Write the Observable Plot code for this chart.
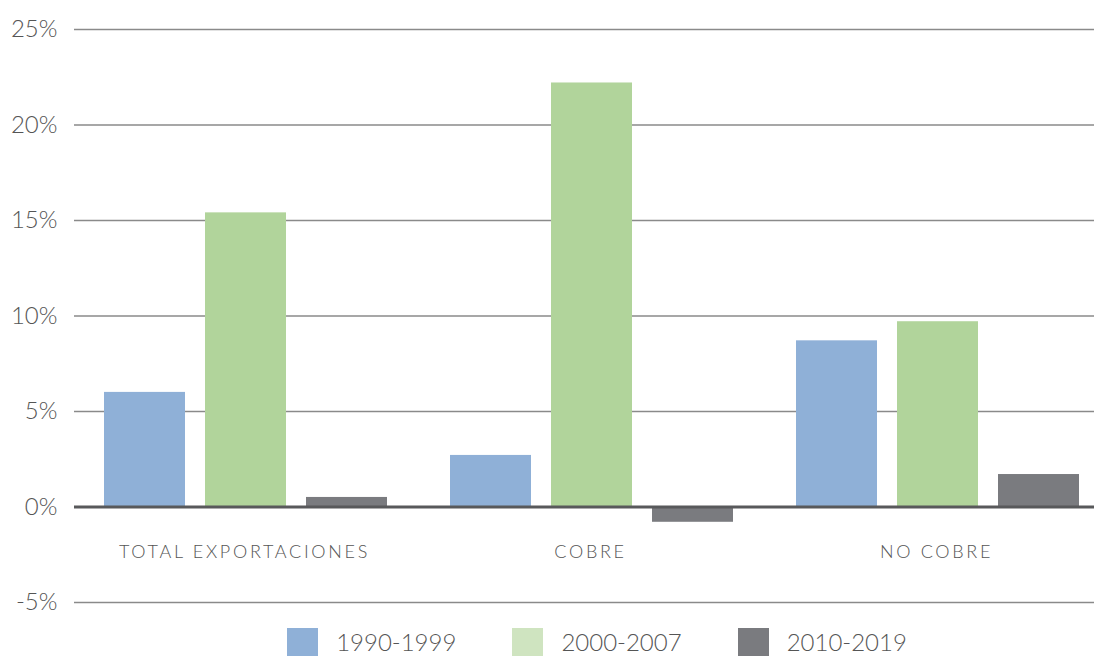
<!DOCTYPE html>
<html>
<head>
<meta charset="utf-8">
<script src="https://cdn.jsdelivr.net/npm/d3@7"></script>
<script src="https://cdn.jsdelivr.net/npm/@observablehq/plot@0.6"></script>
<style>
  html, body { margin: 0; padding: 0; background: #fff; }
  body { font-family: Lato, "Open Sans", sans-serif; font-weight: 300; }
  #chart { width: 1094px; overflow: hidden; }
  #chart svg { display: block; overflow: hidden; }
  g[aria-label="fx-axis tick label"] text { letter-spacing: 2.7px; }
  .legend { display: flex; justify-content: center; align-items: center; height: 28px; margin-top: 8px; margin-left: 87px; width: 1020px; }
  .item { display: flex; align-items: center; margin: 0 28px; }
  .sw { width: 31px; height: 28px; margin-right: 18px; }
  .lab { font-size: 24px; line-height: 26px; color: #555; font-family: Lato, "Open Sans", sans-serif; font-weight: 300; }
</style>
</head>
<body>
<div id="chart"></div>
<div class="legend" id="legend"></div>
<script>
const categories = ["TOTAL EXPORTACIONES", "COBRE", "NO COBRE"];
const periods = ["1990-1999", "2000-2007", "2010-2019"];
const v1990 = [6.0, 2.7, 8.7];
const v2000 = [15.4, 22.2, 9.7];
const v2010 = [0.5, -0.8, 1.7];
const barColors = ["#8fb0d7", "#b1d49b", "#7a7b7f"];
const legendColors = ["#8fb0d7", "#cfe4c0", "#7a7b7f"];
const yTicks = [-5, 0, 5, 10, 15, 20, 25];

const series = [v1990, v2000, v2010];
const data = [];
categories.forEach((c, i) => {
  periods.forEach((p, j) => data.push({category: c, period: p, value: series[j][i]}));
});

const fmt = d => d + "%";

const chart = Plot.plot({
  width: 1094,
  height: 620,
  marginLeft: 72,
  marginRight: -16,
  marginTop: 29,
  marginBottom: 18,
  style: {fontFamily: "Lato, 'Open Sans', sans-serif", fontWeight: 300, background: "#fff"},
  fx: {domain: categories, padding: 0, label: null, axis: null},
  x: {domain: periods, paddingInner: 0.202, paddingOuter: 0.303, axis: null},
  y: {domain: [-5, 25], axis: null},
  color: {domain: periods, range: barColors},
  marks: [
    Plot.gridY(yTicks.filter(d => d !== 0), {stroke: "#8a8a8a", strokeOpacity: 1, strokeWidth: 1.5, dx: 2}),
    Plot.axisY({ticks: yTicks, tickFormat: fmt, tickSize: 0, tickPadding: 15, fontSize: 24, fill: "#555", label: null}),
    Plot.barY(data, {fx: "category", x: "period", y: "value", fill: "period"}),
    Plot.ruleY([0], {stroke: "#58595b", strokeWidth: 3, dx: 2}),
    Plot.axisFx({anchor: "bottom", tickSize: 0, tickPadding: 0, dy: -57, dx: -1, fontSize: 18, fill: "#555", label: null})
  ]
});
document.getElementById("chart").appendChild(chart);

const legend = document.getElementById("legend");
periods.forEach((p, i) => {
  const item = document.createElement("div");
  item.className = "item";
  const sw = document.createElement("div");
  sw.className = "sw";
  sw.style.background = legendColors[i];
  const lab = document.createElement("span");
  lab.className = "lab";
  lab.textContent = p;
  item.appendChild(sw);
  item.appendChild(lab);
  legend.appendChild(item);
});
</script>
</body>
</html>
